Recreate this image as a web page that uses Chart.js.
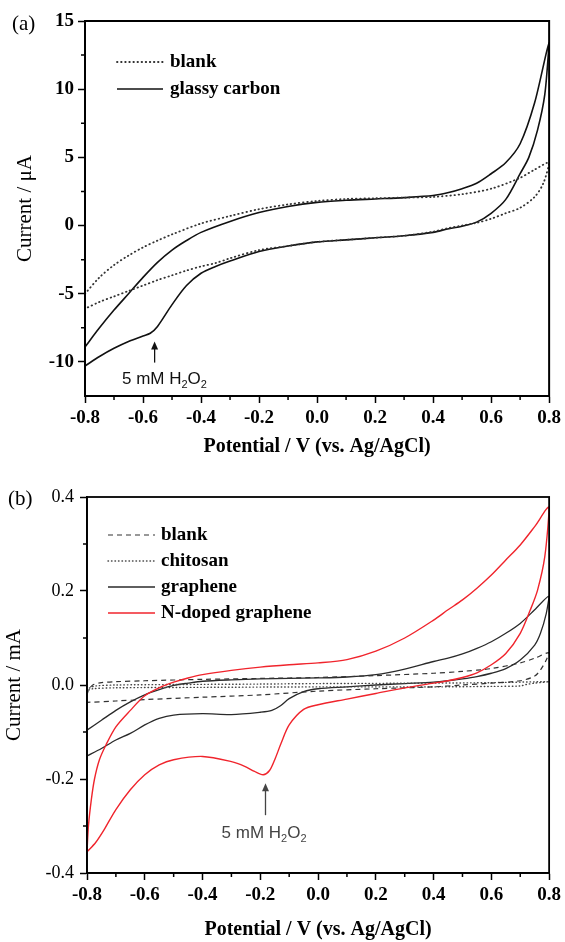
<!DOCTYPE html>
<html>
<head>
<meta charset="utf-8">
<script src="https://cdn.jsdelivr.net/npm/chart.js@4.4.1/dist/chart.umd.min.js"></script>
<style>
  html, body { margin: 0; padding: 0; background: #fff; }
  #wrap { position: relative; width: 565px; height: 942px; }
  canvas { position: absolute; left: 0; }
  #chartA { top: 0; }
  #chartB { top: 470px; }
</style>
</head>
<body>
<div id="wrap">
  <canvas id="chartA" width="565" height="470"></canvas>
  <canvas id="chartB" width="565" height="472"></canvas>
</div>
<script>
const serif = '"Liberation Serif", "Times New Roman", serif'
const sans = '"Liberation Sans", Arial, sans-serif'

// axis ticks
const potentialTicks = [-0.8, -0.6, -0.4, -0.2, 0, 0.2, 0.4, 0.6, 0.8]
const potentialMinor = [-0.7, -0.5, -0.3, -0.1, 0.1, 0.3, 0.5, 0.7]
const currentTicksA = [-10, -5, 0, 5, 10, 15]
const currentMinorA = [-7.5, -2.5, 2.5, 7.5, 12.5]
const currentTicksB = [-0.4, -0.2, 0, 0.2, 0.4]
const currentMinorB = [-0.3, -0.1, 0.1, 0.3]

// (a) current in uA, sweep -0.8 -> 0.8 -> -0.8 V
const blankAV = [-0.8, -0.75, -0.7, -0.65, -0.6, -0.55, -0.5, -0.4, -0.3, -0.2, -0.1, 0, 0.1, 0.2, 0.3, 0.4, 0.5, 0.6, 0.7, 0.75, 0.8,
  0.78, 0.75, 0.7, 0.65, 0.6, 0.55, 0.5, 0.45, 0.4, 0.3, 0.2, 0.1, 0, -0.1, -0.2, -0.3, -0.35, -0.4, -0.45, -0.5, -0.55, -0.6, -0.65, -0.7, -0.75, -0.8]
const blankAI = [-5.0, -3.8, -2.9, -2.2, -1.6, -1.1, -0.65, 0.15, 0.7, 1.2, 1.55, 1.8, 1.95, 2.0, 2.05, 2.1, 2.3, 2.7, 3.5, 4.1, 4.6,
  3.1, 2.1, 1.3, 0.9, 0.5, 0.2, 0.0, -0.2, -0.45, -0.75, -0.9, -1.05, -1.2, -1.5, -1.8, -2.4, -2.75, -3.0, -3.3, -3.65, -4.0, -4.4, -4.8, -5.2, -5.6, -6.1]
const glassyV = [-0.8, -0.75, -0.7, -0.65, -0.6, -0.55, -0.5, -0.45, -0.4, -0.3, -0.2, -0.1, 0, 0.1, 0.2, 0.3, 0.4, 0.45, 0.5, 0.55, 0.6, 0.65, 0.7, 0.75, 0.8,
  0.785, 0.76, 0.73, 0.7, 0.65, 0.6, 0.55, 0.5, 0.45, 0.4, 0.3, 0.2, 0.1, 0, -0.1, -0.2, -0.3, -0.35, -0.4, -0.45, -0.5, -0.55, -0.575, -0.6, -0.65, -0.7, -0.75, -0.8]
const glassyI = [-8.9, -7.5, -6.2, -5.0, -3.8, -2.7, -1.8, -1.1, -0.5, 0.3, 0.95, 1.4, 1.7, 1.85, 1.95, 2.05, 2.2, 2.4, 2.7, 3.1, 3.8, 4.6, 6.0, 9.0, 13.4,
  9.6, 7.0, 5.0, 3.8, 1.9, 0.9, 0.25, -0.05, -0.25, -0.5, -0.75, -0.9, -1.05, -1.2, -1.5, -1.9, -2.6, -3.0, -3.5, -4.4, -5.8, -7.4, -7.9, -8.1, -8.5, -9.0, -9.6, -10.3]

// (b) current in mA
const blankBV = [-0.8, -0.795, -0.78, -0.75, -0.7, -0.6, -0.4, -0.2, 0, 0.2, 0.4, 0.5, 0.6, 0.7, 0.75, 0.8,
  0.79, 0.77, 0.75, 0.7, 0.6, 0.5, 0.4, 0.2, 0, -0.2, -0.4, -0.6, -0.7, -0.8]
const blankBI = [-0.022, -0.011, 0.0, 0.005, 0.007, 0.009, 0.012, 0.014, 0.016, 0.02, 0.025, 0.029, 0.035, 0.047, 0.057, 0.069,
  0.053, 0.032, 0.019, 0.009, 0.004, 0.0, -0.004, -0.008, -0.013, -0.021, -0.026, -0.031, -0.034, -0.037]
const chitosanV = [-0.8, -0.79, -0.77, -0.7, -0.5, -0.2, 0, 0.4, 0.6, 0.8,
  0.75, 0.72, 0.7, 0.6, 0.4, 0, -0.4, -0.7, -0.78, -0.8]
const chitosanI = [-0.012, -0.006, -0.002, 0.0, 0.001, 0.002, 0.003, 0.004, 0.005, 0.007,
  0.004, 0.001, -0.002, -0.003, -0.004, -0.004, -0.005, -0.006, -0.008, -0.012]
const grapheneV = [-0.8, -0.75, -0.7, -0.65, -0.6, -0.55, -0.5, -0.45, -0.4, -0.3, -0.2, -0.1, 0, 0.1, 0.2, 0.3, 0.4, 0.45, 0.5, 0.55, 0.6, 0.65, 0.7, 0.75, 0.8,
  0.79, 0.77, 0.75, 0.7, 0.65, 0.6, 0.55, 0.5, 0.45, 0.4, 0.3, 0.2, 0.1, 0, -0.05, -0.1, -0.13, -0.16, -0.2, -0.3, -0.4, -0.5, -0.55, -0.6, -0.65, -0.7, -0.75, -0.8]
const grapheneI = [-0.096, -0.075, -0.054, -0.036, -0.021, -0.01, -0.001, 0.004, 0.008, 0.011, 0.013, 0.014, 0.015, 0.017, 0.022, 0.034, 0.05, 0.057, 0.066, 0.078, 0.092, 0.11, 0.131, 0.16, 0.189,
  0.152, 0.11, 0.085, 0.053, 0.035, 0.025, 0.018, 0.013, 0.009, 0.006, 0.003, 0.0, -0.004, -0.008, -0.014, -0.029, -0.044, -0.054, -0.058, -0.063, -0.061, -0.064, -0.071, -0.085, -0.103, -0.117, -0.135, -0.151]
const ndopedV = [-0.8, -0.795, -0.785, -0.774, -0.757, -0.734, -0.7, -0.65, -0.6, -0.55, -0.5, -0.45, -0.4, -0.3, -0.2, -0.1, 0, 0.1, 0.2, 0.3, 0.4, 0.45, 0.5, 0.55, 0.6, 0.65, 0.7, 0.75, 0.8,
  0.785, 0.76, 0.735, 0.7, 0.65, 0.6, 0.55, 0.5, 0.45, 0.4, 0.3, 0.2, 0.1, 0, -0.05, -0.1, -0.128, -0.15, -0.168, -0.19, -0.22, -0.254, -0.3, -0.4, -0.5, -0.55, -0.6, -0.65, -0.7, -0.74, -0.77, -0.8]
const ndopedI = [-0.355, -0.30, -0.244, -0.2, -0.159, -0.127, -0.089, -0.054, -0.023, -0.006, 0.006, 0.015, 0.022, 0.031, 0.038, 0.043, 0.047, 0.054, 0.072, 0.1, 0.138, 0.16, 0.181, 0.206, 0.234, 0.266, 0.298, 0.337, 0.378,
  0.273, 0.202, 0.16, 0.11, 0.067, 0.043, 0.026, 0.016, 0.009, 0.004, -0.006, -0.018, -0.03, -0.042, -0.052, -0.085, -0.124, -0.159, -0.182, -0.191, -0.184, -0.173, -0.163, -0.152, -0.159, -0.17, -0.191, -0.223, -0.265, -0.307, -0.335, -0.355]

function loop(v, i) {
  return v.map((x, k) => ({ x: x, y: i[k] }))
}

// frame, minor ticks, legend inside the plot, arrow note and panel letter
const decor = {
  id: 'decor',
  afterDraw(chart, args, opt) {
    const ctx = chart.ctx
    const area = chart.chartArea
    const xs = chart.scales.x
    const ys = chart.scales.y
    ctx.save()
    ctx.strokeStyle = '#000'
    ctx.lineWidth = opt.frame
    ctx.strokeRect(area.left, area.top, area.right - area.left, area.bottom - area.top)

    ctx.lineWidth = 1.5
    ctx.beginPath()
    opt.minorX.forEach(v => {
      let px = xs.getPixelForValue(v)
      ctx.moveTo(px, area.bottom)
      ctx.lineTo(px, area.bottom + 4)
    })
    opt.minorY.forEach(v => {
      let py = ys.getPixelForValue(v)
      ctx.moveTo(area.left, py)
      ctx.lineTo(area.left - 4, py)
    })
    ctx.stroke()

    // legend
    let lg = opt.legend
    ctx.font = lg.font
    ctx.textBaseline = 'middle'
    ctx.textAlign = 'left'
    chart.data.datasets.forEach((ds, k) => {
      let y = area.top + lg.top + k * lg.step
      ctx.strokeStyle = ds.borderColor
      ctx.lineWidth = ds.borderWidth
      ctx.lineCap = ds.borderCapStyle || 'butt'
      ctx.setLineDash(ds.borderDash || [])
      ctx.beginPath()
      ctx.moveTo(area.left + lg.x0, y)
      ctx.lineTo(area.left + lg.x1, y)
      ctx.stroke()
      ctx.setLineDash([])
      ctx.fillStyle = '#000'
      ctx.fillText(ds.label, area.left + lg.tx, y)
    })

    // arrow + "5 mM H2O2"
    let nt = opt.note
    let ax = xs.getPixelForValue(nt.v)
    let tip = ys.getPixelForValue(nt.tip)
    let tail = ys.getPixelForValue(nt.tail)
    ctx.lineCap = 'butt'
    ctx.strokeStyle = nt.color
    ctx.fillStyle = nt.color
    ctx.lineWidth = 1.3
    ctx.beginPath()
    ctx.moveTo(ax, tail)
    ctx.lineTo(ax, tip + 6)
    ctx.stroke()
    ctx.beginPath()
    ctx.moveTo(ax, tip)
    ctx.lineTo(ax - 3.5, tip + 8)
    ctx.lineTo(ax + 3.5, tip + 8)
    ctx.closePath()
    ctx.fill()

    let parts = [['5 mM H', 17, 0], ['2', 11, 4], ['O', 17, 0], ['2', 11, 4]]
    let total = 0
    parts.forEach(p => {
      ctx.font = p[1] + 'px ' + sans
      total += ctx.measureText(p[0]).width
    })
    let tx = xs.getPixelForValue(nt.textV) - total / 2
    let ty = ys.getPixelForValue(nt.textI) + 6
    ctx.textBaseline = 'alphabetic'
    parts.forEach(p => {
      ctx.font = p[1] + 'px ' + sans
      ctx.fillText(p[0], tx, ty + p[2])
      tx += ctx.measureText(p[0]).width
    })

    // panel letter
    ctx.fillStyle = '#000'
    ctx.font = '21px ' + serif
    ctx.textBaseline = 'middle'
    ctx.fillText(opt.panel.text, opt.panel.x, opt.panel.y)
    ctx.restore()
  }
}

function axes(cfg) {
  return {
    x: {
      type: 'linear', min: -0.8, max: 0.8,
      afterBuildTicks: s => { s.ticks = potentialTicks.map(v => ({ value: v })) },
      afterFit: s => { s.height = cfg.xHeight },
      grid: { drawOnChartArea: false, drawTicks: true, tickLength: 7, tickWidth: 1.5, tickColor: '#000' },
      border: { display: true, color: '#000', width: cfg.frame },
      ticks: {
        color: '#000', padding: 4, maxRotation: 0,
        font: { family: serif, size: 19, weight: 'bold' },
        callback: v => v.toFixed(1)
      },
      title: {
        display: true, text: 'Potential / V (vs. Ag/AgCl)', color: '#000',
        font: { family: serif, size: 20, weight: 'bold' },
        padding: { top: 0, bottom: cfg.xTitlePad }
      }
    },
    y: {
      type: 'linear', min: cfg.yMin, max: cfg.yMax,
      afterBuildTicks: s => { s.ticks = cfg.yTicks.map(v => ({ value: v })) },
      afterFit: s => { s.width = cfg.yWidth },
      grid: { drawOnChartArea: false, drawTicks: true, tickLength: 7, tickWidth: 1.5, tickColor: '#000' },
      border: { display: true, color: '#000', width: cfg.frame },
      ticks: {
        color: '#000', padding: cfg.yPad,
        font: { family: serif, size: cfg.yFont, weight: cfg.yWeight },
        callback: cfg.yLabel
      },
      title: {
        display: true, text: cfg.yTitle, color: '#000',
        font: { family: serif, size: 21 },
        padding: { top: cfg.yTitlePad, bottom: 0 }
      }
    }
  }
}

new Chart(document.getElementById('chartA'), {
  type: 'scatter',
  data: {
    datasets: [{
      label: 'blank',
      data: loop(blankAV, blankAI),
      showLine: true, pointRadius: 0, tension: 0.3,
      borderColor: '#333', borderWidth: 1.8, borderDash: [0.5, 3.6], borderCapStyle: 'round'
    }, {
      label: 'glassy carbon',
      data: loop(glassyV, glassyI),
      showLine: true, pointRadius: 0, tension: 0.3,
      borderColor: '#111', borderWidth: 1.6
    }]
  },
  options: {
    responsive: false,
    animation: false,
    layout: { padding: { left: 0, top: 21, right: 13, bottom: 0 } },
    scales: axes({
      xHeight: 74, xTitlePad: 11, yWidth: 85, yPad: 4, frame: 2,
      yMin: -12.5, yMax: 15, yTicks: currentTicksA,
      yFont: 19, yWeight: 'bold', yLabel: v => String(v),
      yTitle: 'Current / μA', yTitlePad: 13
    }),
    plugins: {
      legend: { display: false },
      tooltip: { enabled: false },
      decor: {
        frame: 2, minorX: potentialMinor, minorY: currentMinorA,
        legend: { font: 'bold 19px ' + serif, top: 41, step: 27, x0: 32, x1: 78, tx: 85 },
        note: { v: -0.56, tip: -8.5, tail: -10.05, textV: -0.526, textI: -11.2, color: '#111' },
        panel: { text: '(a)', x: 12, y: 24 }
      }
    }
  },
  plugins: [decor]
})

new Chart(document.getElementById('chartB'), {
  type: 'scatter',
  data: {
    datasets: [{
      label: 'blank',
      data: loop(blankBV, blankBI),
      showLine: true, pointRadius: 0, tension: 0.3,
      borderColor: '#333', borderWidth: 1.2, borderDash: [5, 4]
    }, {
      label: 'chitosan',
      data: loop(chitosanV, chitosanI),
      showLine: true, pointRadius: 0, tension: 0.3,
      borderColor: '#444', borderWidth: 1.4, borderDash: [0.5, 3], borderCapStyle: 'round'
    }, {
      label: 'graphene',
      data: loop(grapheneV, grapheneI),
      showLine: true, pointRadius: 0, tension: 0.3,
      borderColor: '#2a2a2a', borderWidth: 1.3
    }, {
      label: 'N-doped graphene',
      data: loop(ndopedV, ndopedI),
      showLine: true, pointRadius: 0, tension: 0.3, order: -1,
      borderColor: '#f0242c', borderWidth: 1.4
    }]
  },
  options: {
    responsive: false,
    animation: false,
    layout: { padding: { left: 0, top: 27, right: 12, bottom: 0 } },
    scales: axes({
      xHeight: 69, xTitlePad: 0, yWidth: 87, yPad: 6, frame: 1.8,
      yMin: -0.4, yMax: 0.4, yTicks: currentTicksB,
      yFont: 18, yWeight: 'normal', yLabel: v => v.toFixed(1),
      yTitle: 'Current / mA', yTitlePad: 2
    }),
    plugins: {
      legend: { display: false },
      tooltip: { enabled: false },
      decor: {
        frame: 1.8, minorX: potentialMinor, minorY: currentMinorB,
        legend: { font: 'bold 19px ' + serif, top: 38, step: 26, x0: 21, x1: 68, tx: 74 },
        note: { v: -0.182, tip: -0.209, tail: -0.277, textV: -0.187, textI: -0.313, color: '#444' },
        panel: { text: '(b)', x: 8, y: 29 }
      }
    }
  },
  plugins: [decor]
})
</script>
</body>
</html>
